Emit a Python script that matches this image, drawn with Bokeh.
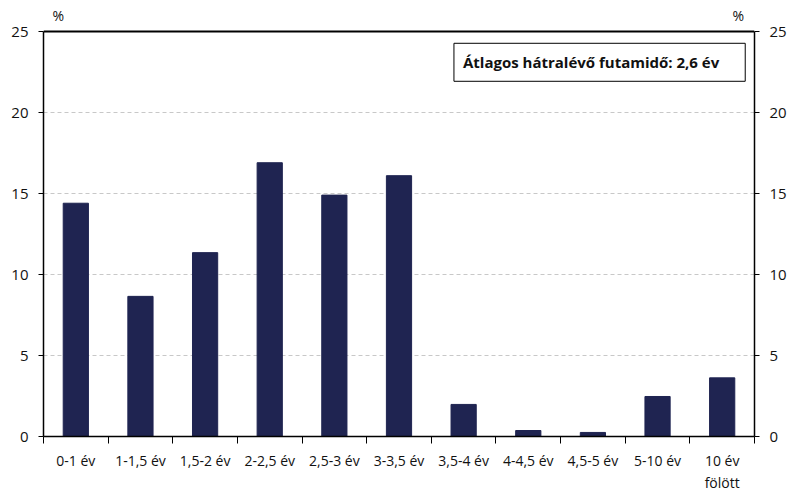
from bokeh.plotting import figure
from bokeh.models import (Range1d, LinearAxis, FixedTicker, Label, ColumnDataSource, Span)
from bokeh.embed import file_html
from bokeh.resources import INLINE

categories = ["0-1 év", "1-1,5 év", "1,5-2 év", "2-2,5 év", "2,5-3 év", "3-3,5 év",
              "3,5-4 év", "4-4,5 év", "4,5-5 év", "5-10 év", "10 év\nfölött"]
values = [14.4, 8.65, 11.35, 16.9, 14.9, 16.1, 1.98, 0.37, 0.25, 2.47, 3.62]
y_ticks = [0, 5, 10, 15, 20, 25]
note_text = "Átlagos hátralévő futamidő: 2,6 év"
FONT = "Open Sans"

YMAX = 25
YTOP = 26.42  # headroom above the axis for the "%" unit labels

xpos = [i + 0.5 for i in range(len(categories))]
src = ColumnDataSource(dict(x=xpos, top=values))

p = figure(width=800, height=497, output_backend="svg", toolbar_location=None,
           x_range=Range1d(0, len(categories)), y_range=Range1d(0, YTOP),
           min_border_left=43, min_border_right=46, min_border_top=8, min_border_bottom=61)
p.background_fill_color = "white"
p.outline_line_color = None

p.vbar(x="x", top="top", width=0.39, source=src, fill_color="#1f2451",
       line_color="#1f2451")

# top border of the plot area
p.add_layout(Span(location=YMAX, dimension="width", line_color="black", line_width=2))

# x axis
xa = p.xaxis[0]
xa.ticker = FixedTicker(ticks=xpos, minor_ticks=list(range(len(categories) + 1)))
xa.major_label_overrides = {x: c for x, c in zip(xpos, categories)}
xa.major_tick_out = 0
xa.major_tick_in = 0
xa.minor_tick_out = 7
xa.minor_tick_in = 0
xa.minor_tick_line_color = "black"
xa.axis_line_color = "black"
xa.axis_line_width = 1.5
xa.major_label_text_font = FONT
xa.major_label_text_font_size = "14px"
xa.major_label_text_color = "#111111"
xa.major_label_standoff = 7

# y axes
ya = p.yaxis[0]
yr = LinearAxis()
p.add_layout(yr, "right")
for ax in (ya, yr):
    ax.ticker = FixedTicker(ticks=y_ticks)
    ax.bounds = (0, YMAX)
    ax.minor_tick_line_color = None
    ax.major_tick_out = 5
    ax.major_tick_in = 0
    ax.major_tick_line_color = "black"
    ax.axis_line_color = "black"
    ax.axis_line_width = 1.5
    ax.major_label_text_font = FONT
    ax.major_label_text_font_size = "15px"
    ax.major_label_text_color = "#111111"
    ax.major_label_standoff = 10

p.xgrid.grid_line_color = None
p.ygrid.ticker = FixedTicker(ticks=y_ticks[1:-1])
p.ygrid.grid_line_color = "#c8c8c8"
p.ygrid.grid_line_dash = "4 3"
p.ygrid.grid_line_width = 1

for lx in (0.23, 10.75):
    p.add_layout(Label(x=lx, y=YMAX, text="%", text_font=FONT, text_font_size="14px",
                       text_align="center", text_baseline="middle", y_offset=16,
                       text_color="#111111"))

p.add_layout(Label(x=6.35, y=23.1, text=note_text, text_font=FONT,
                   text_font_size="15px", text_font_style="bold",
                   text_align="left", text_baseline="middle", text_color="#111111",
                   border_line_color="black", border_line_width=1,
                   background_fill_color="white",
                   padding=dict(left=9, right=26, top=9, bottom=9)))

open("out.html", "w").write(file_html(p, INLINE))
